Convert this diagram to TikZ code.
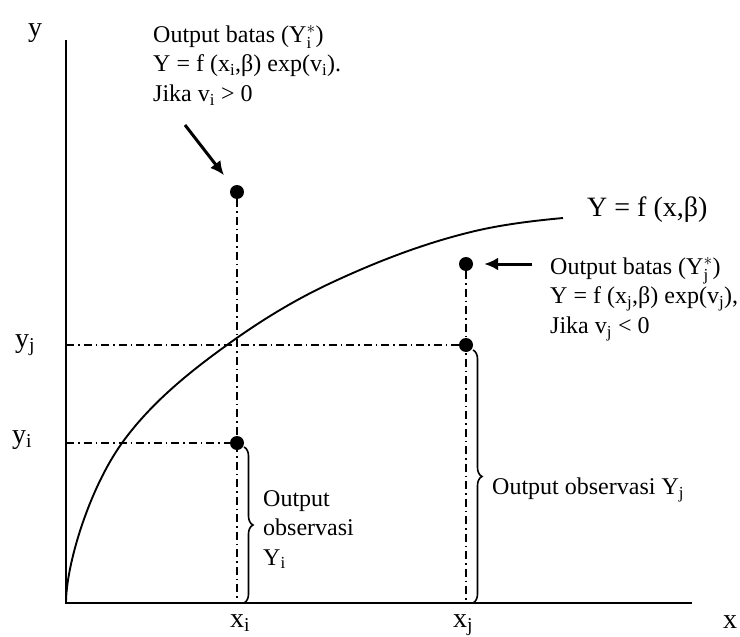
\documentclass[tikz,border=0pt]{standalone}
\usepackage{fontspec}
\setmainfont{Liberation Serif}
\usetikzlibrary{arrows.meta,decorations.pathreplacing}
\begin{document}
\begin{tikzpicture}[x=1pt,y=-1pt,
  axis/.style={line width=1.9pt},
  dd/.style={line width=1.5pt, dash pattern=on 8pt off 4pt on 1.5pt off 4pt},
  curvestyle/.style={line width=1.9pt},
  dotnode/.style={circle, fill=black, inner sep=0pt, minimum size=14pt},
  ann/.style={font=\fontsize{24}{29.5}\selectfont, inner sep=0pt, align=left},
  axlab/.style={font=\fontsize{28}{32}\selectfont, inner sep=0pt},
  arr/.style={line width=3pt, -{Latex[length=14pt,width=13pt]}},
  bracestyle/.style={line width=1.6pt, decorate, decoration={brace, amplitude=9pt}}
]
\useasboundingbox (0,0) rectangle (740,637);

% axes
\coordinate (O) at (66,603);
\coordinate (ytop) at (66,40);
\coordinate (xend) at (692,603);
\draw[axis] (ytop) -- (O) -- (xend);

% points
\node[dotnode] (Pi) at (237,192) {};
\node[dotnode] (Pi2) at (237,443) {};
\node[dotnode] (Pj) at (466,264) {};
\node[dotnode] (Pj2) at (466,345) {};

\coordinate (Xi) at (237,603);
\coordinate (Xj) at (466,603);
\coordinate (Yi) at (66,443);
\coordinate (Yj) at (66,345);

% dash-dot guides
\draw[dd] (Pi) -- (Xi);
\draw[dd] (Pj) -- (Xj);
\draw[dd] (Yi) -- (Pi2);
\draw[dd] (Yj) -- (Pj2);

% frontier curve
\draw[curvestyle] (O)
  .. controls (66,565) and (89,489) .. (122,443)
  .. controls (150,404) and (188,373) .. (227,345)
  .. controls (260,321) and (296,299) .. (333,282)
  .. controls (376,262) and (421,244.5) .. (467,233)
  .. controls (498,225) and (531,221) .. (563,218);

% braces
\coordinate (bi1) at (244,447);
\coordinate (bi2) at (244,603);
\coordinate (bj1) at (473,350);
\coordinate (bj2) at (473,603);
\draw[bracestyle] (bi1) -- (bi2);
\draw[bracestyle] (bj1) -- (bj2);

% arrows
\coordinate (ai) at (185,125);
\coordinate (aj) at (532,264);
\draw[arr, shorten >=14pt] (ai) -- (Pi);
\draw[arr, shorten >=11pt] (aj) -- (Pj);

% axis labels
\node[axlab, anchor=base] (ly) at (35,36) {y};
\node[axlab, anchor=base] (lyj) at (25,347) {y\textsubscript{j}};
\node[axlab, anchor=base] (lyi) at (22,443) {y\textsubscript{i}};
\node[axlab, anchor=base] (lxi) at (240,627) {x\textsubscript{i}};
\node[axlab, anchor=base] (lxj) at (463,627) {x\textsubscript{j}};
\node[axlab, anchor=base] (lx) at (730,628) {x};

% annotations
\node[font=\fontsize{28}{32}\selectfont, inner sep=0pt, anchor=base west] (lf) at (587,216) {Y = f (x,β)};
\node[ann, anchor=north west] (ti) at (153,25) {Output batas (Y$^{*}_{\mathrm{i}}$)\\Y = f (x\textsubscript{i},β) exp(v\textsubscript{i}).\\Jika v\textsubscript{i} > 0};
\node[ann, anchor=north west] (tj) at (550,257) {Output batas (Y$^{*}_{\mathrm{j}}$)\\Y = f (x\textsubscript{j},β) exp(v\textsubscript{j}),\\Jika v\textsubscript{j} < 0};
\node[ann, anchor=north west] (toi) at (263,490) {Output\\observasi\\Y\textsubscript{i}};
\node[ann, anchor=west] (toj) at (492,490) {Output observasi Y\textsubscript{j}};
\end{tikzpicture}
\end{document}
